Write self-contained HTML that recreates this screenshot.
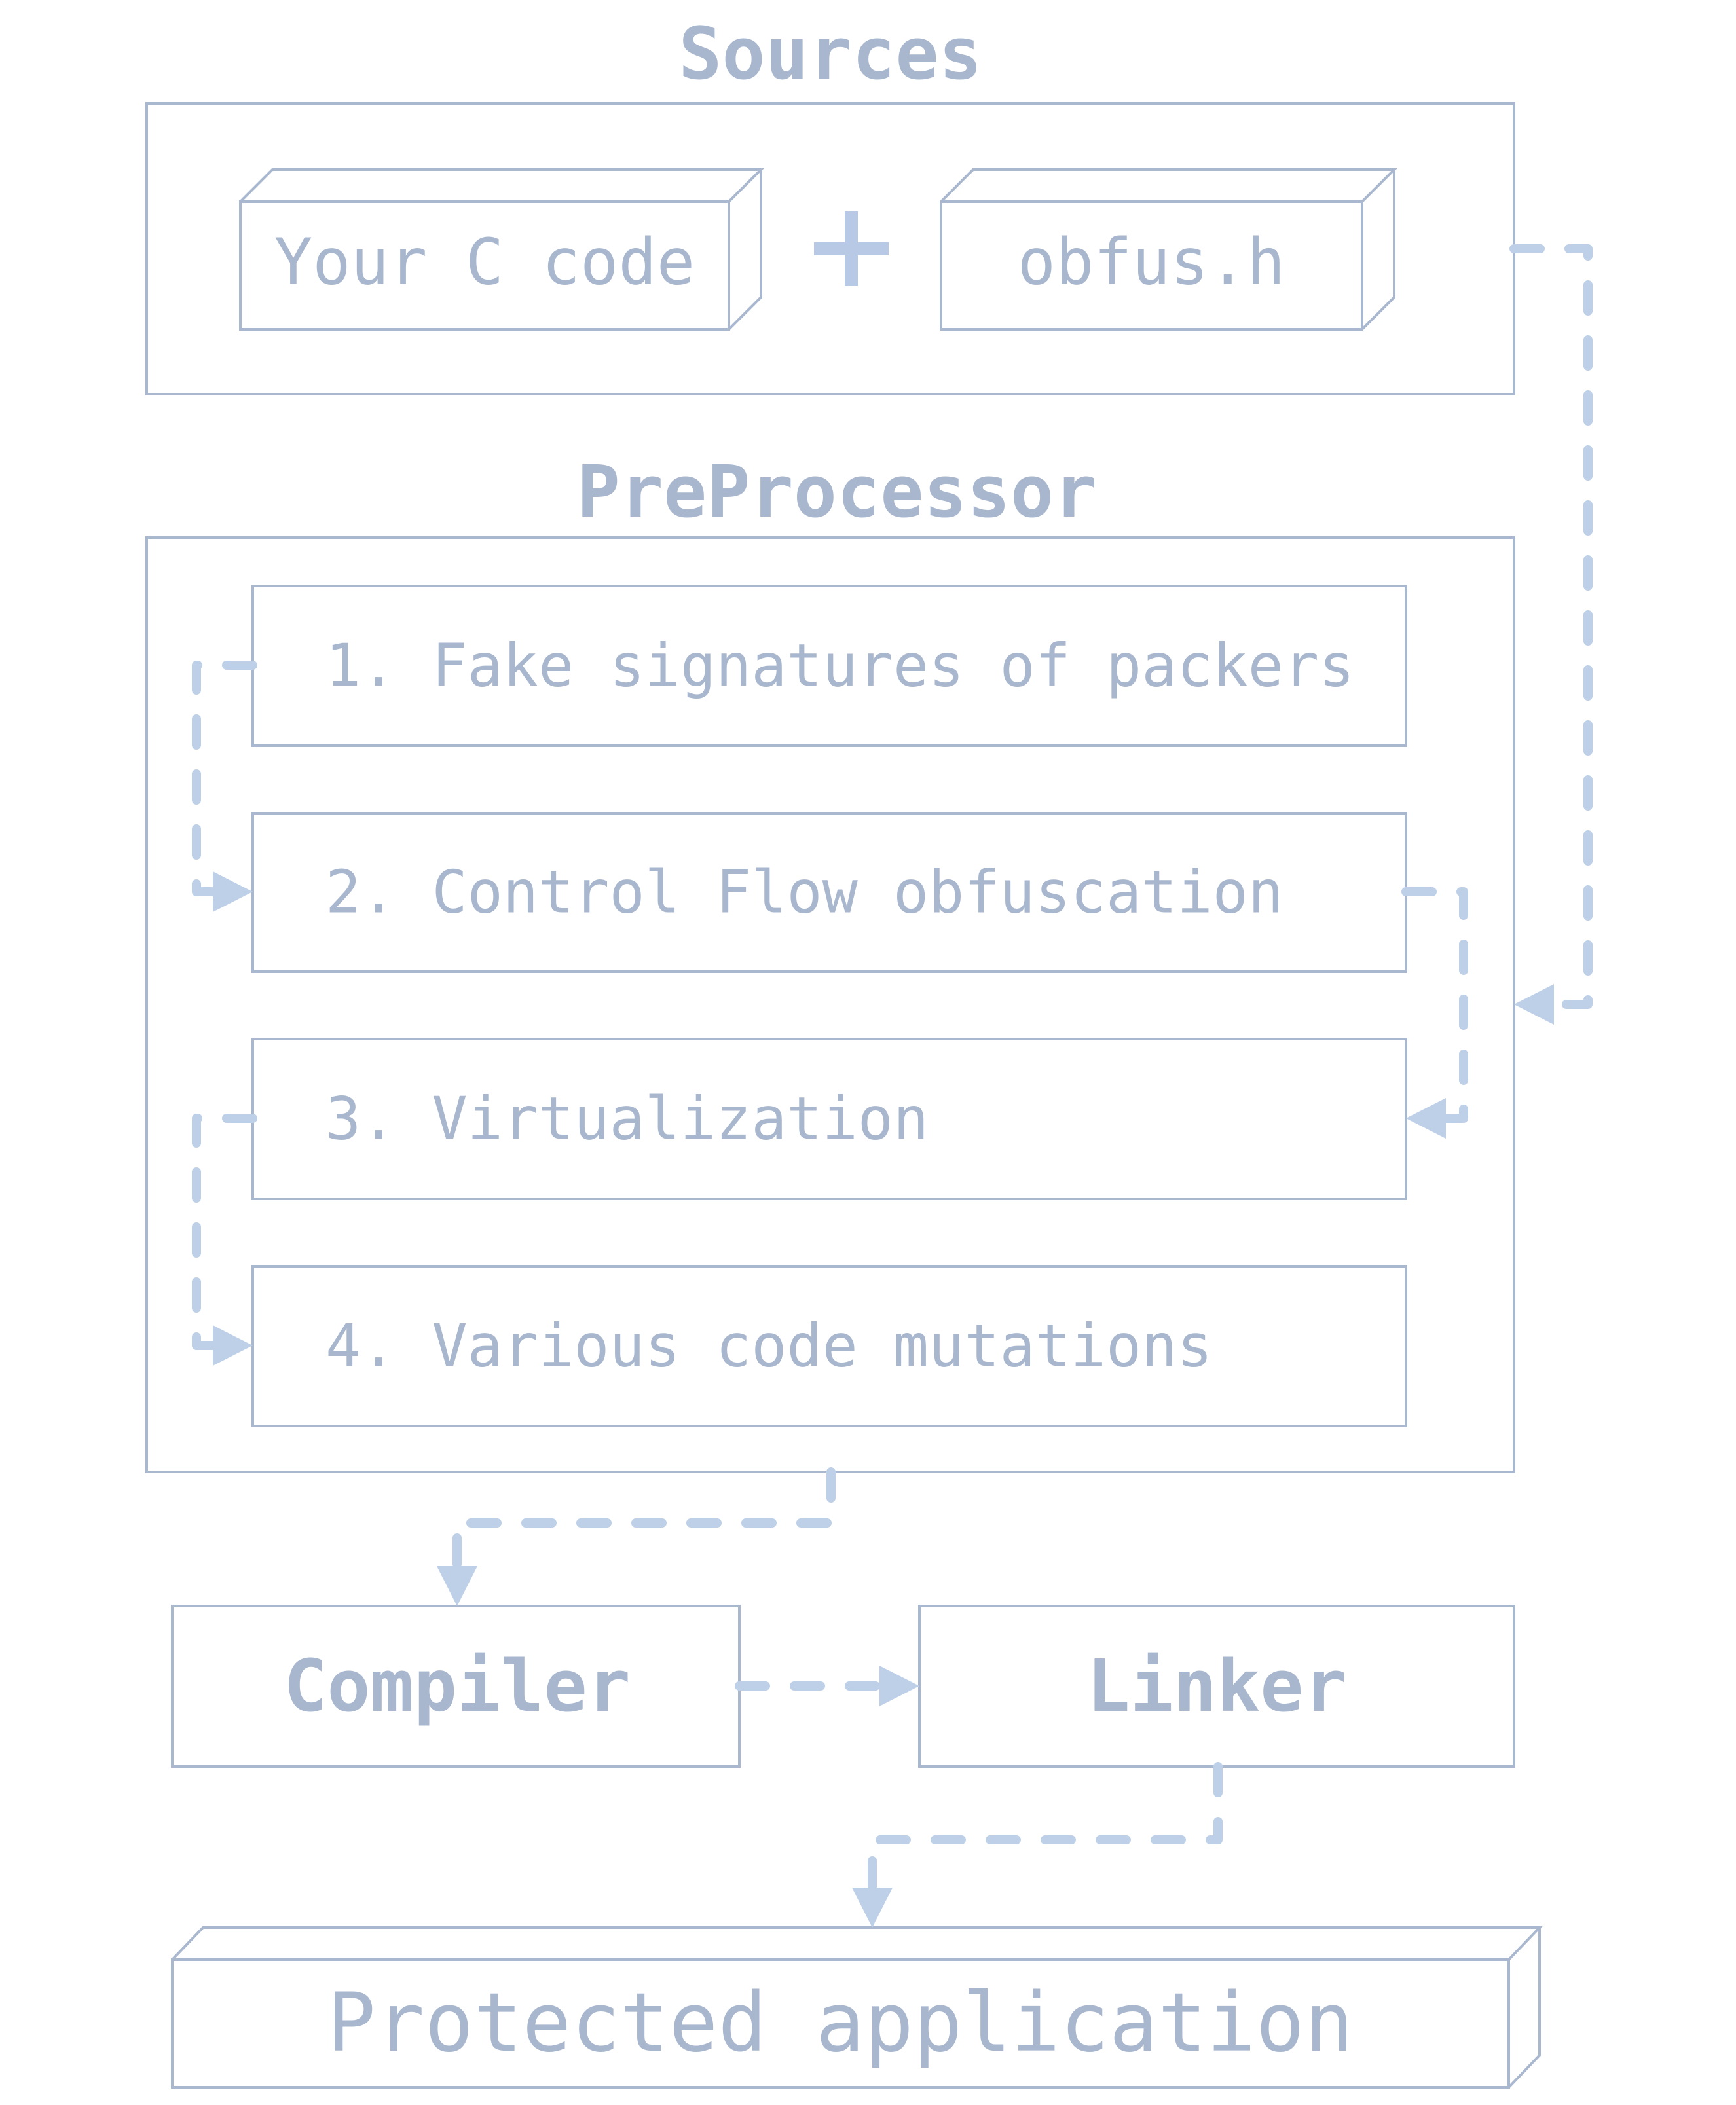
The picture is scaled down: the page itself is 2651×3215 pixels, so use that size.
<!DOCTYPE html>
<html><head><meta charset="utf-8"><style>
html,body{margin:0;padding:0;background:#fff;}
svg{display:block;}
text{font-family:"DejaVu Sans Mono","Liberation Mono",monospace;fill:#a8b7cd;dominant-baseline:central;}
.b{font-weight:bold;}
.box{fill:none;stroke:#a9b8cf;stroke-width:4;}
.c{fill:none;stroke:#bdd0e8;stroke-width:14;stroke-linecap:round;stroke-linejoin:round;stroke-dasharray:40 44;}
.a{fill:#bdd0e8;}
</style></head><body>
<svg width="2651" height="3215" viewBox="0 0 2651 3215" xmlns="http://www.w3.org/2000/svg">
<!-- Sources -->
<text class="b" x="1268" y="82" font-size="110" text-anchor="middle">Sources</text>
<rect class="box" x="224" y="158" width="2088" height="444"/>
<!-- Your C code box -->
<rect class="box" x="367" y="308" width="746" height="195"/>
<polyline class="box" points="367,308 416,259 1162,259 1113,308"/>
<polyline class="box" points="1162,259 1162,454 1113,503"/>
<text x="740" y="400" font-size="97" text-anchor="middle">Your C code</text>
<!-- plus -->
<rect x="1290" y="323" width="20" height="114" fill="#b8c9e6"/>
<rect x="1243" y="370" width="114" height="20" fill="#b8c9e6"/>
<!-- obfus.h -->
<rect class="box" x="1437" y="308" width="643" height="195"/>
<polyline class="box" points="1437,308 1486,259 2129,259 2080,308"/>
<polyline class="box" points="2129,259 2129,454 2080,503"/>
<text x="1758" y="400" font-size="97" text-anchor="middle">obfus.h</text>

<!-- PreProcessor -->
<text class="b" x="1278" y="751" font-size="110" text-anchor="middle">PreProcessor</text>
<rect class="box" x="224" y="821" width="2088" height="1427"/>
<rect class="box" x="386" y="895" width="1761" height="244"/>
<rect class="box" x="386" y="1242" width="1761" height="242"/>
<rect class="box" x="386" y="1587" width="1761" height="244"/>
<rect class="box" x="386" y="1934" width="1761" height="244"/>
<text x="497" y="1017" font-size="90">1. Fake signatures of packers</text>
<text x="497" y="1363" font-size="90">2. Control Flow obfuscation</text>
<text x="497" y="1709" font-size="90">3. Virtualization</text>
<text x="497" y="2056" font-size="90">4. Various code mutations</text>

<!-- Compiler / Linker -->
<rect class="box" x="263" y="2453" width="866" height="245"/>
<rect class="box" x="1404" y="2453" width="908" height="245"/>
<text class="b" x="698" y="2575" font-size="110" text-anchor="middle">Compiler</text>
<text class="b" x="1858" y="2575" font-size="110" text-anchor="middle">Linker</text>

<!-- Protected application -->
<rect class="box" x="263" y="2993" width="2041" height="195"/>
<polyline class="box" points="263,2993 310,2944 2351,2944 2304,2993"/>
<polyline class="box" points="2351,2944 2351,3139 2304,3188"/>
<text x="1283" y="3090" font-size="124" text-anchor="middle">Protected application</text>

<!-- connectors -->
<polyline class="c" points="2312,380 2425,380 2425,1534 2372,1534"/>
<polygon class="a" points="2312,1534 2373,1503 2373,1565"/>

<polyline class="c" points="386,1016 300,1016 300,1362 326,1362"/>
<polygon class="a" points="386,1362 325,1331 325,1393"/>

<polyline class="c" points="2147,1362 2235,1362 2235,1708 2207,1708"/>
<polygon class="a" points="2147,1708 2208,1677 2208,1739"/>

<polyline class="c" points="386,1708 300,1708 300,2055 326,2055"/>
<polygon class="a" points="386,2055 325,2024 325,2086"/>

<polyline class="c" points="1269,2248 1269,2326 698,2326 698,2393"/>
<polygon class="a" points="698,2453 667,2392 729,2392"/>

<polyline class="c" points="1129,2575 1344,2575"/>
<polygon class="a" points="1404,2575 1343,2544 1343,2606"/>

<polyline class="c" points="1860,2698 1860,2810 1332,2810 1332,2884"/>
<polygon class="a" points="1332,2944 1301,2883 1363,2883"/>
</svg>
</body></html>
